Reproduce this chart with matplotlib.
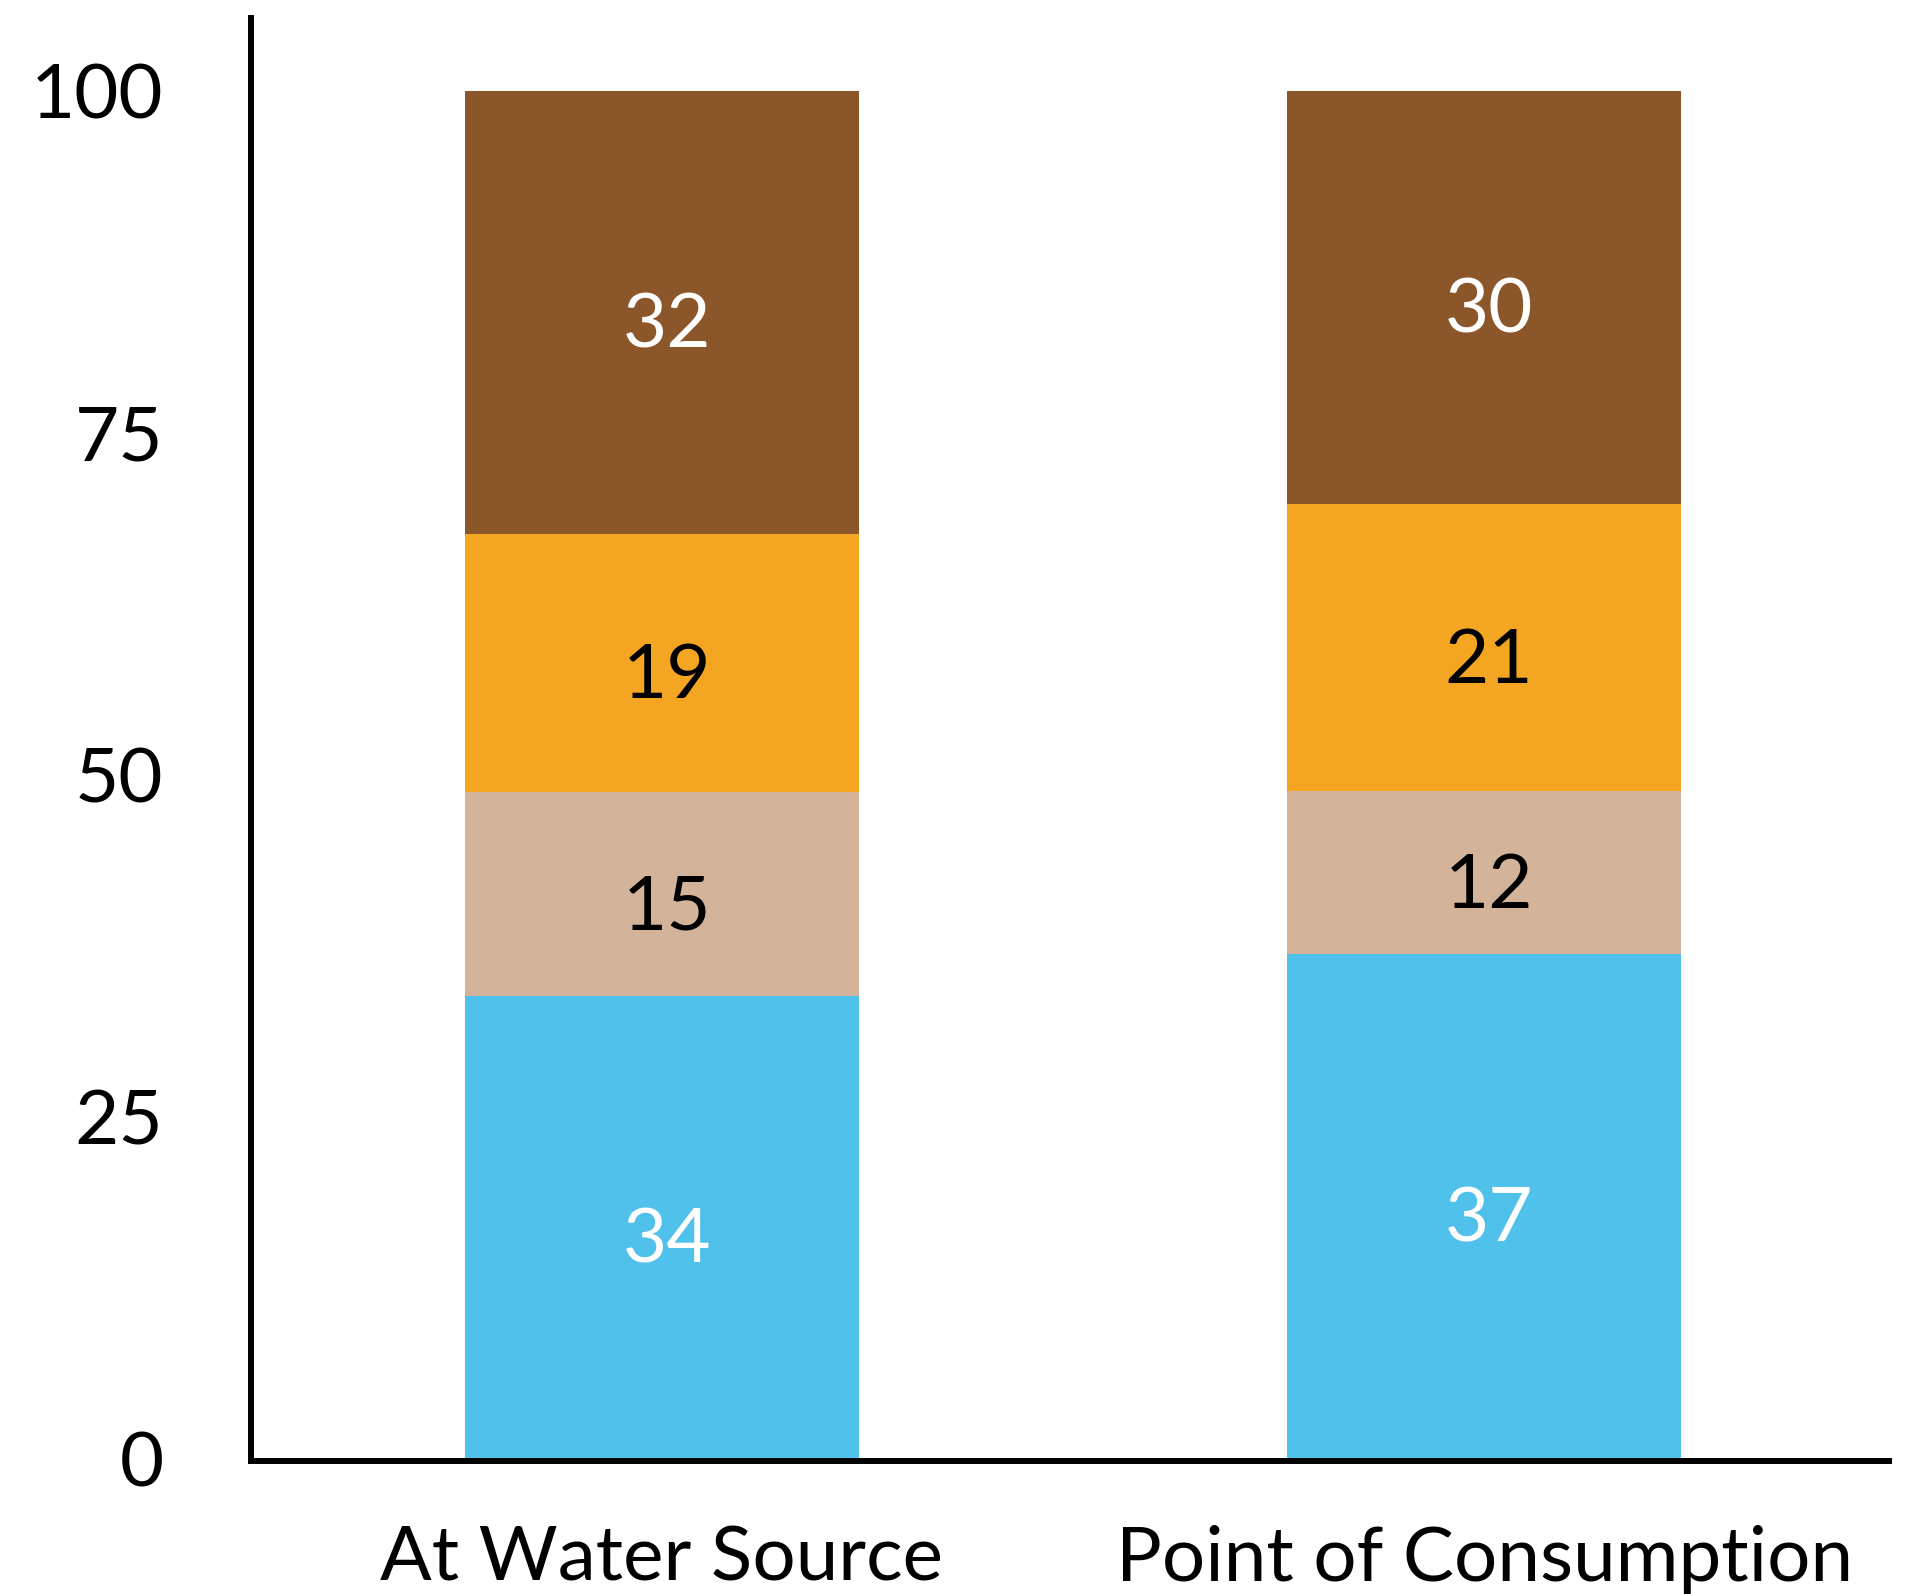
import matplotlib.pyplot as plt

categories = ["At Water Source", "Point of Consumption"]
# segment heights and the rounded labels printed on them
blue_vals = [33.8, 36.9]
beige_vals = [14.9, 11.9]
orange_vals = [18.9, 21.0]
brown_vals = [32.4, 30.2]
blue_labels = ["34", "37"]
beige_labels = ["15", "12"]
orange_labels = ["19", "21"]
brown_labels = ["32", "30"]
y_ticks = [0, 25, 50, 75, 100]

plt.rcParams["font.family"] = ["Lato", "DejaVu Sans"]

fig = plt.figure(figsize=(19.3, 15.94), dpi=100)
ax = fig.add_axes([0.130, 0.0834, 0.849, 0.9053])

series = [
    (blue_vals, blue_labels, "#50C1EB", "white"),
    (beige_vals, beige_labels, "#D3B49A", "black"),
    (orange_vals, orange_labels, "#F4A623", "black"),
    (brown_vals, brown_labels, "#8B572A", "white"),
]

x = list(range(len(categories)))
bottom = [0] * len(categories)
for vals, labels, color, txt_color in series:
    ax.bar(x, vals, bottom=bottom, width=0.48, color=color)
    for i, v in enumerate(vals):
        ax.annotate(labels[i], (x[i], bottom[i] + v / 2), xytext=(3.5, -25.5),
                    textcoords="offset points", ha="center", va="baseline",
                    fontsize=55, color=txt_color)
    bottom = [b + v for b, v in zip(bottom, vals)]

ax.set_xlim(-0.5, 1.493)
ax.set_ylim(-0.18, 105.3)
ax.set_yticks(y_ticks)
ax.set_xticks(x)
ax.set_xticklabels(categories)
ax.tick_params(axis="y", length=0, pad=63, labelsize=55)
ax.tick_params(axis="x", length=0, pad=46, labelsize=55)

for s in ["top", "right"]:
    ax.spines[s].set_visible(False)
for s in ["left", "bottom"]:
    ax.spines[s].set_linewidth(4.3)

fig.savefig("out.png", dpi=100)
